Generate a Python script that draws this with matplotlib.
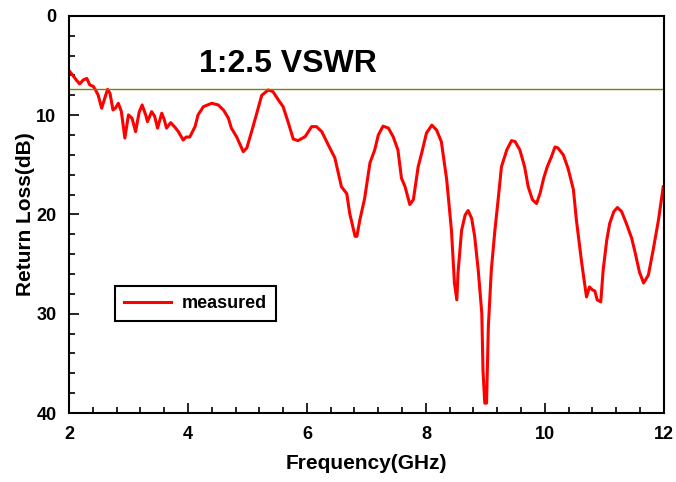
import matplotlib
matplotlib.use("Agg")
import matplotlib.pyplot as plt
from matplotlib.ticker import MultipleLocator

plt.rcParams['font.family'] = ['Liberation Sans', 'DejaVu Sans']
plt.rcParams['font.weight'] = 'bold'

# measured return loss (GHz, dB)
freq = [2.00, 2.06, 2.13, 2.18, 2.24, 2.30, 2.35, 2.41, 2.45, 2.49, 2.55, 2.61, 2.65,
        2.69, 2.74, 2.78, 2.83, 2.88, 2.94, 3.00, 3.06, 3.12, 3.18, 3.23, 3.29, 3.32,
        3.39, 3.44, 3.49, 3.56, 3.60, 3.64, 3.71, 3.78, 3.84, 3.92, 3.97, 4.03, 4.12,
        4.17, 4.26, 4.40, 4.51, 4.60, 4.68, 4.73, 4.82, 4.93, 4.99, 5.07, 5.15, 5.24,
        5.35, 5.43, 5.52, 5.60, 5.69, 5.77, 5.85, 5.97, 6.08, 6.16, 6.25, 6.36, 6.47,
        6.58, 6.67, 6.72, 6.81, 6.84, 6.89, 6.97, 7.06, 7.14, 7.20, 7.28, 7.37, 7.45,
        7.53, 7.59, 7.65, 7.73, 7.79, 7.87, 7.93, 8.01, 8.10, 8.18, 8.26, 8.35, 8.43,
        8.48, 8.52, 8.54, 8.60, 8.66, 8.71, 8.77, 8.82, 8.88, 8.94, 8.96, 8.99, 9.02,
        9.05, 9.10, 9.16, 9.22, 9.27, 9.36, 9.44, 9.50, 9.58, 9.66, 9.72, 9.79, 9.86,
        9.92, 9.98, 10.04, 10.11, 10.17, 10.22, 10.31, 10.39, 10.48, 10.53, 10.62,
        10.70, 10.75, 10.80, 10.84, 10.88, 10.94, 10.98, 11.04, 11.09, 11.16, 11.22,
        11.29, 11.37, 11.46, 11.52, 11.59, 11.66, 11.74, 11.82, 11.91, 11.99]
return_loss = [5.5, 5.95, 6.5, 6.85, 6.45, 6.3, 6.95, 7.1, 7.5, 7.96, 9.3, 8.13, 7.39,
               7.8, 9.47, 9.3, 8.8, 9.6, 12.3, 9.97, 10.3, 11.66, 9.7, 8.97, 9.97, 10.65,
               9.64, 10.1, 11.3, 9.8, 10.4, 11.3, 10.75, 11.2, 11.66, 12.5, 12.2, 12.2, 11.15,
               9.97, 9.14, 8.8, 8.97, 9.5, 10.3, 11.3, 12.2, 13.67, 13.3, 11.66, 9.97, 8.0,
               7.46, 7.63, 8.46, 9.14, 10.8, 12.4, 12.56, 12.16, 11.15, 11.15, 11.66, 13.0, 14.3,
               17.2, 17.9, 19.9, 22.2, 22.2, 20.55, 18.4, 14.8, 13.5, 12.0, 11.1, 11.3, 12.16,
               13.5, 16.35, 17.2, 19.0, 18.5, 15.2, 13.8, 11.8, 11.0, 11.5, 12.66, 16.5, 21.6,
               26.9, 28.6, 25.9, 21.6, 20.05, 19.6, 20.4, 22.2, 25.6, 29.96, 35.7, 39.0, 39.0,
               31.3, 25.6, 21.6, 18.2, 15.2, 13.5, 12.56, 12.66, 13.5, 15.2, 17.2, 18.5, 18.9,
               17.86, 16.35, 15.2, 14.2, 13.2, 13.3, 14.0, 15.35, 17.5, 20.55, 24.9,
               28.3, 27.3, 27.6, 27.7, 28.6, 28.8, 25.6, 22.6, 20.9, 19.7, 19.3,
               19.7, 20.9, 22.4, 23.9, 25.8, 26.9, 26.1, 23.6, 20.55, 17.2]

vswr_limit = 7.36  # return loss for 1:2.5 VSWR

fig = plt.figure(figsize=(6.76, 4.82), dpi=100)
ax = fig.add_axes([0.102, 0.143, 0.880, 0.824])

ax.plot(freq, return_loss, color='#ff0000', linewidth=2.2, label='measured')
ax.axhline(vswr_limit, color='#808000', linewidth=1.0)
ax.text(5.68, 4.8, '1:2.5 VSWR', fontsize=23, fontweight='bold',
        ha='center', va='center')

ax.set_xlim(2, 12)
ax.set_ylim(40, 0)
ax.xaxis.set_major_locator(MultipleLocator(2))
ax.xaxis.set_minor_locator(MultipleLocator(0.4))
ax.yaxis.set_major_locator(MultipleLocator(10))
ax.yaxis.set_minor_locator(MultipleLocator(2))
ax.tick_params(which='both', direction='in', width=1.2, labelsize=13, pad=9)
ax.tick_params(which='major', length=7)
ax.tick_params(which='minor', length=4)
for s in ax.spines.values():
    s.set_linewidth(1.5)

ax.set_xlabel('Frequency(GHz)', fontsize=15, fontweight='bold', labelpad=8)
ax.set_ylabel('Return Loss(dB)', fontsize=15, fontweight='bold', labelpad=1)

leg = ax.legend(loc='upper left', bbox_to_anchor=(0.077, 0.32), fontsize=13,
                fancybox=False, edgecolor='black', framealpha=1,
                handlelength=2.6, handletextpad=0.6, borderpad=0.5,
                borderaxespad=0)
leg.get_frame().set_linewidth(1.5)

plt.savefig('out.png', dpi=100)
